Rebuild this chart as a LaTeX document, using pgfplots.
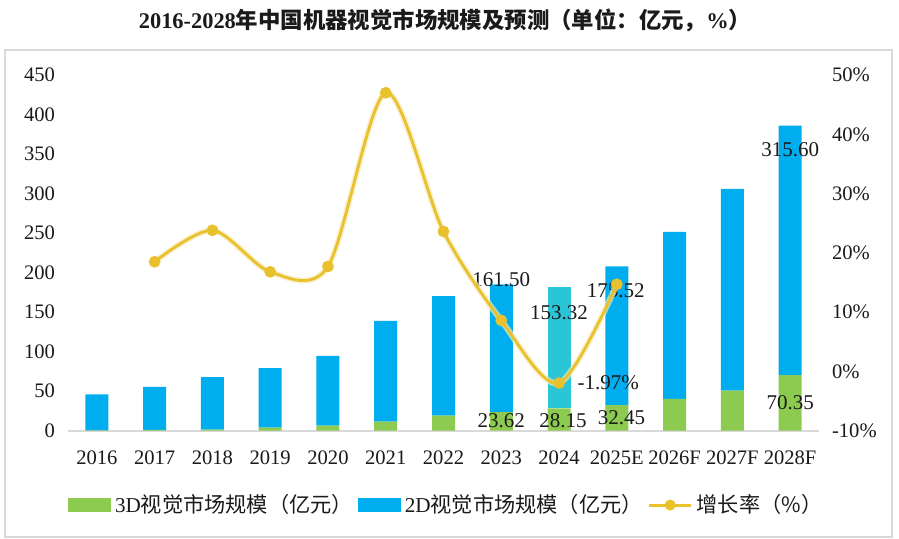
\documentclass[border=0pt]{standalone}
\usepackage{pgfplots}
\usepackage{pgfplotstable}
\pgfplotsset{compat=1.18}
\usepackage{fontspec}
\setmainfont{Liberation Serif}
\newfontfamily\cjk{Noto Sans CJK SC}
\definecolor{gB}{HTML}{00AEEF}
\definecolor{gG}{HTML}{8DCB50}
\definecolor{gC}{HTML}{2BC5D8}
\definecolor{gY}{HTML}{E8C12C}
\definecolor{gridg}{HTML}{D9D9D9}
\definecolor{txt}{HTML}{1A1A1A}

\pgfplotstableread{
x d3 d2 d2c
0 0.5 45.5 0
1 1.0 54.3 0
2 1.5 66.4 0
3 3.8 75.5 0
4 6.3 88.2 0
5 11.4 127.4 0
6 19.0 151.4 0
7 23.62 161.50 0
8 28.15 0 153.32
9 32.45 175.52 0
10 40.1 211.3 0
11 50.6 255.2 0
12 70.35 315.60 0
}\bars

\pgfplotstableread{
x g
1 18.5
2 23.8
3 16.8
4 17.7
5 47.0
6 23.6
7 8.6
8 -1.97
9 14.7
}\growth

\tikzset{lbl/.style={font=\fontsize{10.5}{12}\selectfont, text=txt}}

\begin{document}
\begin{tikzpicture}
\useasboundingbox (0,0) rectangle (449.5pt,269.5pt);
\draw[gridg, line width=1pt] (2.5pt,1pt) rectangle (446pt,244.5pt);
\node[font=\fontsize{11.2}{13}\selectfont\bfseries, text=txt] at (222.5pt,259.5pt)
  {2016-2028{\cjk 年中国机器视觉市场规模及预测（单位：亿元，}\%{\cjk ）}};

\begin{axis}[
  at={(34pt,54.15pt)}, anchor=south west, scale only axis,
  width=375.5pt, height=177.85pt,
  xmin=-0.5, xmax=12.5, ymin=0, ymax=450,
  ybar stacked, bar width=11.5pt,
  axis x line*=bottom, axis y line*=left,
  y axis line style={draw=none},
  x axis line style={gridg, line width=1pt, -},
  tick style={draw=none}, major tick length=0pt,
  xtick={0,...,12},
  xticklabels={2016,2017,2018,2019,2020,2021,2022,2023,2024,2025E,2026F,2027F,2028F},
  ytick={0,50,...,450},
  /pgf/number format/assume math mode=true,
  ticklabel style={font=\fontsize{10.3}{12}\selectfont, text=txt},
  xticklabel style={yshift=-6.5pt},
  yticklabel style={xshift=-3pt},
  clip=false,
]
\addplot[fill=gG, draw=none] table[x=x,y=d3]{\bars};
\addplot[fill=gB, draw=none] table[x=x,y=d2]{\bars};
\addplot[fill=gC, draw=none] table[x=x,y=d2c]{\bars};
\end{axis}

\begin{axis}[
  at={(34pt,54.15pt)}, anchor=south west, scale only axis,
  width=375.5pt, height=177.85pt,
  xmin=-0.5, xmax=12.5, ymin=-10, ymax=50,
  axis x line=none, axis y line*=right,
  y axis line style={draw=none},
  tick style={draw=none}, major tick length=0pt,
  ytick={-10,0,...,50},
  yticklabel={\pgfmathprintnumber{\tick}\%},
  /pgf/number format/assume math mode=true,
  ticklabel style={font=\fontsize{10.3}{12}\selectfont, text=txt},
  yticklabel style={xshift=3pt},
  legend style={at={(0.505,-0.209)}, anchor=center, draw=none, fill=none,
    font=\cjk\fontsize{10.6}{12}\selectfont, text=txt,
    /tikz/every odd column/.append style={column sep=0pt},
    /tikz/every even column/.append style={column sep=0.5pt}},
  legend columns=3,
  legend cell align=left,
  clip=false,
]
\node[lbl] at (axis cs:7,15.43) {161.50};
\node[lbl] at (axis cs:8,9.85) {153.32};
\node[lbl] at (axis cs:8.98,13.56) {175.52};
\node[lbl] at (axis cs:7,-8.36) {23.62};
\node[lbl] at (axis cs:8.07,-8.36) {28.15};
\node[lbl] at (axis cs:9.08,-7.87) {32.45};
\node[lbl] at (axis cs:12,-5.33) {70.35};
\node[lbl] at (axis cs:12,37.33) {315.60};
\node[lbl] at (axis cs:8.85,-1.96) {-1.97\%};
\addlegendimage{legend image code/.code={\fill[gG] (0pt,-3.25pt) rectangle (21pt,3.25pt);}}
\addlegendentry{{\rmfamily 3D}视觉市场规模（亿元）}
\addlegendimage{legend image code/.code={\fill[gB] (0pt,-3.25pt) rectangle (21pt,3.25pt);}}
\addlegendentry{{\rmfamily 2D}视觉市场规模（亿元）}
\addplot[gY!35, line width=3pt, smooth, opacity=0.7, forget plot] table[x=x,y=g]{\growth};
\addplot[gY, line width=1.4pt, smooth, mark=*, mark size=2.2pt,
  mark options={fill=gY, draw=gY},
  legend image code/.code={
  \draw[gY, line width=1.5pt] (0pt,0pt) -- (21pt,0pt);
  \fill[gY] (10.5pt,0pt) circle (2pt);}] table[x=x,y=g]{\growth};
\addlegendentry{增长率（\%）}
\end{axis}
\end{tikzpicture}
\end{document}
